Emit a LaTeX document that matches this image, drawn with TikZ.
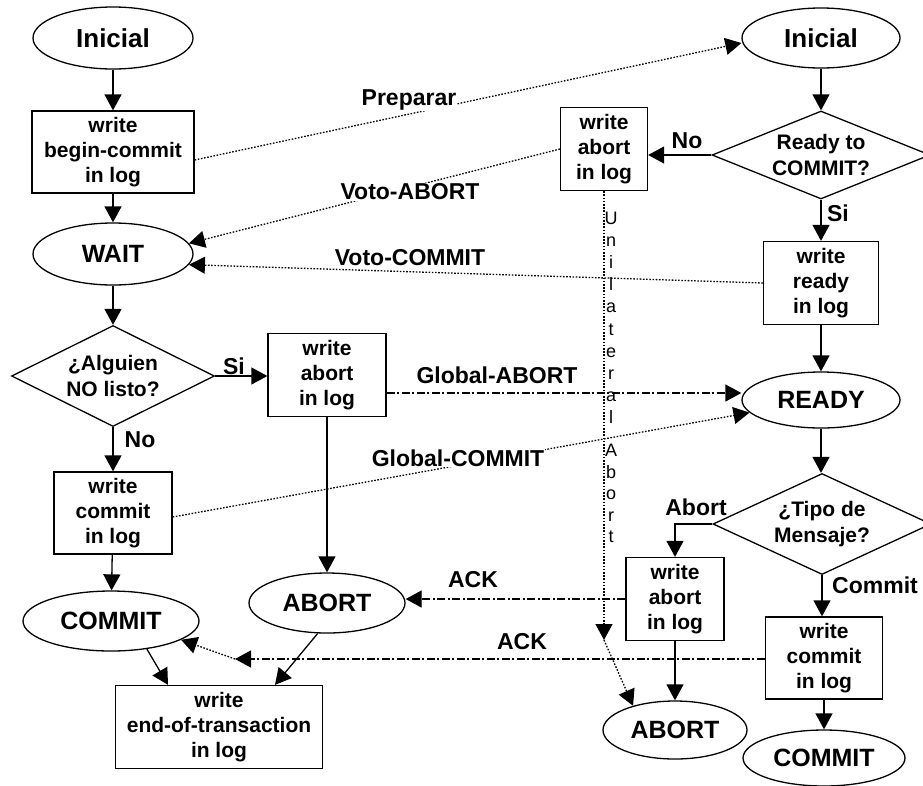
\documentclass[tikz,border=0pt]{standalone}
\usepackage{fontspec}
\setmainfont{Liberation Sans}
\usetikzlibrary{shapes.geometric,arrows.meta}
\begin{document}
\begin{tikzpicture}[x=1pt,y=-1pt,
  line width=1.3pt,
  >={Triangle[length=16pt,width=17pt]},
  box/.style={draw,rectangle,inner sep=0pt,align=center,font=\fontsize{21}{25}\selectfont\bfseries},
  oval/.style={draw,ellipse,inner sep=0pt,font=\fontsize{25}{28}\selectfont\bfseries},
  dec/.style={draw,diamond,inner sep=0pt,align=center,font=\fontsize{21}{26}\selectfont\bfseries},
  lbl/.style={font=\fontsize{23}{26}\selectfont\bfseries,inner sep=1pt},
  wlbl/.style={lbl,fill=white},
  msg/.style={dash pattern=on 1.6pt off 1.6pt},
  dmsg/.style={dash pattern=on 8pt off 2.5pt on 2pt off 2.5pt},
  vert/.style={font=\fontsize{18}{18}\selectfont,inner sep=0pt,anchor=base}
]
\useasboundingbox (0,0) rectangle (923,785);

% ---- coordinator (left) ----
\node[oval,minimum width=160pt,minimum height=62pt,font=\fontsize{26}{28}\selectfont\bfseries] (IL) at (113,38) {Inicial};
\node[box,minimum width=162pt,minimum height=82pt] (BC) at (113,152) {write\\begin-commit\\in log};
\node[oval,minimum width=160pt,minimum height=62pt] (WAIT) at (113,254) {WAIT};
\node[dec,minimum width=203pt,minimum height=101pt,shape aspect=2] (AL) at (113,376) {¿Alguien\\NO listo?};
\node[box,minimum width=118pt,minimum height=82pt] (WC1) at (113,513) {write\\commit\\in log};
\node[oval,minimum width=176pt,minimum height=60pt] (CL) at (111,621) {COMMIT};
\node[box,minimum width=118pt,minimum height=83pt] (WA2) at (327,375) {write\\abort\\in log};
\node[oval,minimum width=156pt,minimum height=60pt] (ABm) at (327,603) {ABORT};
\node[box,minimum width=207pt,minimum height=83pt] (EB) at (219,727) {write\\end-of-transaction\\in log};

% ---- participant (right) ----
\node[oval,minimum width=158pt,minimum height=60pt,font=\fontsize{26}{28}\selectfont\bfseries] (IR) at (821,38) {Inicial};
\node[dec,minimum width=218pt,minimum height=88pt,shape aspect=2.48] (RC) at (821,155) {Ready to\\COMMIT?};
\node[box,minimum width=87pt,minimum height=83pt] (WA1) at (604,149) {write\\abort\\in log};
\node[box,minimum width=115pt,minimum height=83pt] (WR) at (821,283) {write\\ready\\in log};
\node[oval,minimum width=158pt,minimum height=56pt] (READY) at (821,400) {READY};
\node[dec,minimum width=218pt,minimum height=101pt,shape aspect=2.16] (TM) at (822,524) {¿Tipo de\\Mensaje?};
\node[box,minimum width=98pt,minimum height=83pt] (WA3) at (675,599) {write\\abort\\in log};
\node[box,minimum width=117pt,minimum height=82pt] (WC2) at (824,658) {write\\commit\\in log};
\node[oval,minimum width=144pt,minimum height=58pt] (ABb) at (675,730) {ABORT};
\node[oval,minimum width=162pt,minimum height=56pt] (CR) at (824,758) {COMMIT};

% ---- solid flow arrows ----
\draw[->] (IL) -- (BC);
\draw[->] (BC) -- (WAIT);
\draw[->] (WAIT) -- (AL);
\draw[->] (AL) -- (WC1);
\draw[->] (AL.east) -- (AL.east -| WA2.west);
\draw[->] (WC1) -- (CL);
\draw[->] (WA2) -- (ABm);
\draw[->] (CL.-38) -- ([xshift=-51pt]EB.north);
\draw[->] (ABm.-107) -- ([xshift=56pt]EB.north);

\draw[->] (IR) -- (RC);
\draw[->] (RC.west) -- (RC.west -| WA1.east);
\draw[->] (RC) -- (WR);
\draw[->] (WR) -- (READY);
\draw[->] (READY.south) -- (READY.south |- TM.north);
\draw[->] (TM.west) -| (WA3.north);
\draw[->] (TM.south) -- (TM.south |- WC2.north);
\draw[->] (WA3) -- (ABb);
\draw[->] (WC2) -- (CR);

% ---- messages ----
\draw[msg,->] ([yshift=-8pt]BC.east) -- ([yshift=-5pt]IR.west);
\draw[msg,->] (WA1.west) -- (WAIT.8);
\draw[msg,->] (WR.west) -- (WAIT.-8);
\draw[dmsg,->] ([yshift=-18pt]WA2.east) -- ([yshift=-18pt]WA2.east -| READY.west);
\draw[msg,->] ([yshift=-4pt]WC1.east) -- (READY.190);
\draw[dmsg,->] (WA3.west) -- (WA3.west -| ABm.east);
\coordinate (ackc) at (235,659);
\draw[dmsg,->] (WC2.west |- ackc) -- (ackc);
\draw[msg,->] (ackc) -- (CL.-15);
\coordinate (uc) at (604,640);
\draw[msg,->] (WA1.south) -- (uc);
\draw[msg,->] (uc) -- (ABb.150);

% ---- labels ----
\node[wlbl] (lprep) at (409,100) {Preparar};
\node[wlbl] (lva) at (410,192) {Voto-ABORT};
\node[lbl] (lvc) at (410,258) {Voto-COMMIT};
\node[lbl] (lga) at (497,375) {Global-ABORT};
\node[wlbl] (lgc) at (458,458) {Global-COMMIT};
\node[lbl] (lack1) at (473,580) {ACK};
\node[lbl] (lack2) at (522,642) {ACK};
\node[lbl] (lsi1) at (234,366) {Si};
\node[lbl] (lno1) at (140,440) {No};
\node[lbl] (lno2) at (687,141) {No};
\node[lbl] (lsi2) at (838,213) {Si};
\node[lbl] (labo) at (696,507) {Abort};
\node[lbl] (lcom) at (875,585) {Commit};

\foreach \ch/\yy [count=\i] in {U/224.0,n/246.2,i/268.4,l/290.6,a/312.8,t/335.0,e/357.2,r/379.4,a/401.6,l/423.8,A/456.5,b/478,o/499.5,r/521,t/542.5}
  \node[vert] (u\i) at (611,\yy) {\ch};
\end{tikzpicture}
\end{document}
